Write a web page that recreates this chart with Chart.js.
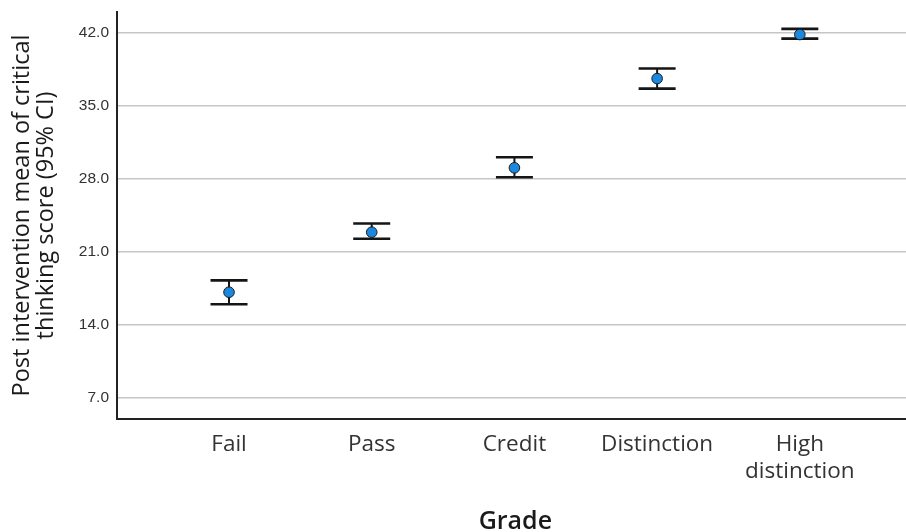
<!DOCTYPE html>
<html>
<head>
<meta charset="utf-8">
<script src="https://cdn.jsdelivr.net/npm/chart.js@4/dist/chart.umd.min.js"></script>
<style>
  html, body { margin: 0; padding: 0; background: #ffffff; overflow: hidden; }
  #wrap { width: 906px; height: 532px; position: relative; overflow: hidden; }
  #c { display: block; }
</style>
</head>
<body>
<div id="wrap"><canvas id="c" width="920" height="532"></canvas></div>
<script>
// Grades and post-intervention means with 95% confidence limits
const grades = ['Fail', 'Pass', 'Credit', 'Distinction', 'High distinction'];
const meanScore = [17.15, 22.9, 29.07, 37.62, 41.84];
const ciLower = [16.0, 22.27, 28.17, 36.66, 41.45];
const ciUpper = [18.28, 23.73, 30.08, 38.58, 42.38];
const yTicks = [7, 14, 21, 28, 35, 42];

const points = meanScore.map((v, i) => ({ x: i, y: v }));

// Draws the CI whiskers and caps beneath the mean markers
const errorBars = {
  id: 'errorBars',
  beforeDatasetsDraw(chart) {
    const { ctx, scales: { x, y } } = chart;
    const capHalf = 18.5;
    ctx.save();
    ctx.strokeStyle = '#151515';
    ctx.lineCap = 'butt';
    grades.forEach((g, i) => {
      const px = x.getPixelForValue(i);
      const yLo = y.getPixelForValue(ciLower[i]);
      const yHi = y.getPixelForValue(ciUpper[i]);
      ctx.lineWidth = 2;
      ctx.beginPath();
      ctx.moveTo(px, yLo);
      ctx.lineTo(px, yHi);
      ctx.stroke();
      ctx.lineWidth = 2.6;
      ctx.beginPath();
      ctx.moveTo(px - capHalf, yHi);
      ctx.lineTo(px + capHalf, yHi);
      ctx.moveTo(px - capHalf, yLo);
      ctx.lineTo(px + capHalf, yLo);
      ctx.stroke();
    });
    ctx.restore();
  }
};

new Chart(document.getElementById('c'), {
  type: 'scatter',
  data: {
    datasets: [{
      data: points,
      pointRadius: 5.3,
      pointHoverRadius: 5.3,
      pointBackgroundColor: '#1b88e0',
      pointBorderColor: '#1a1a1a',
      pointBorderWidth: 1,
      showLine: false
    }]
  },
  options: {
    responsive: false,
    animation: false,
    events: [],
    layout: { padding: { top: 12, right: 0, bottom: 0, left: 0 } },
    plugins: { legend: { display: false }, tooltip: { enabled: false } },
    scales: {
      x: {
        type: 'linear',
        min: -0.785,
        max: 4.798,
        afterFit(scale) { scale.height = 113; scale.paddingLeft = 0; scale.paddingRight = 0; },
        afterBuildTicks(scale) { scale.ticks = grades.map((g, i) => ({ value: i })); },
        grid: { display: false, drawTicks: false },
        border: { display: true, color: '#222222', width: 2 },
        ticks: {
          padding: 12,
          color: '#333333',
          font: { family: 'Open Sans', size: 22.5 },
          callback(v) { const g = grades[v]; return g && g.includes(' ') ? g.split(' ') : g; }
        },
        title: {
          display: true,
          text: 'Grade',
          color: '#1a1a1a',
          font: { family: 'Open Sans', size: 25, weight: '600', lineHeight: 1 },
          padding: { top: 0, bottom: -2 }
        }
      },
      y: {
        min: 5,
        max: 44,
        afterFit(scale) { scale.width = 117; scale.paddingTop = 0; scale.paddingBottom = 0; },
        afterBuildTicks(scale) { scale.ticks = yTicks.map(v => ({ value: v })); },
        grid: { color: '#c6c6c6', lineWidth: 1.5, drawTicks: false },
        border: { display: true, color: '#222222', width: 2 },
        ticks: {
          padding: 8,
          color: '#333333',
          font: { family: 'Liberation Sans', size: 15.5 },
          callback(v) { return Number(v).toFixed(1); }
        },
        title: {
          display: true,
          text: ['Post intervention mean of critical', 'thinking score (95% CI)'],
          color: '#1a1a1a',
          font: { family: 'Open Sans', size: 23.5, lineHeight: 1.0 },
          padding: { top: 11, bottom: 0 }
        }
      }
    }
  },
  plugins: [errorBars]
});
</script>
</body>
</html>
